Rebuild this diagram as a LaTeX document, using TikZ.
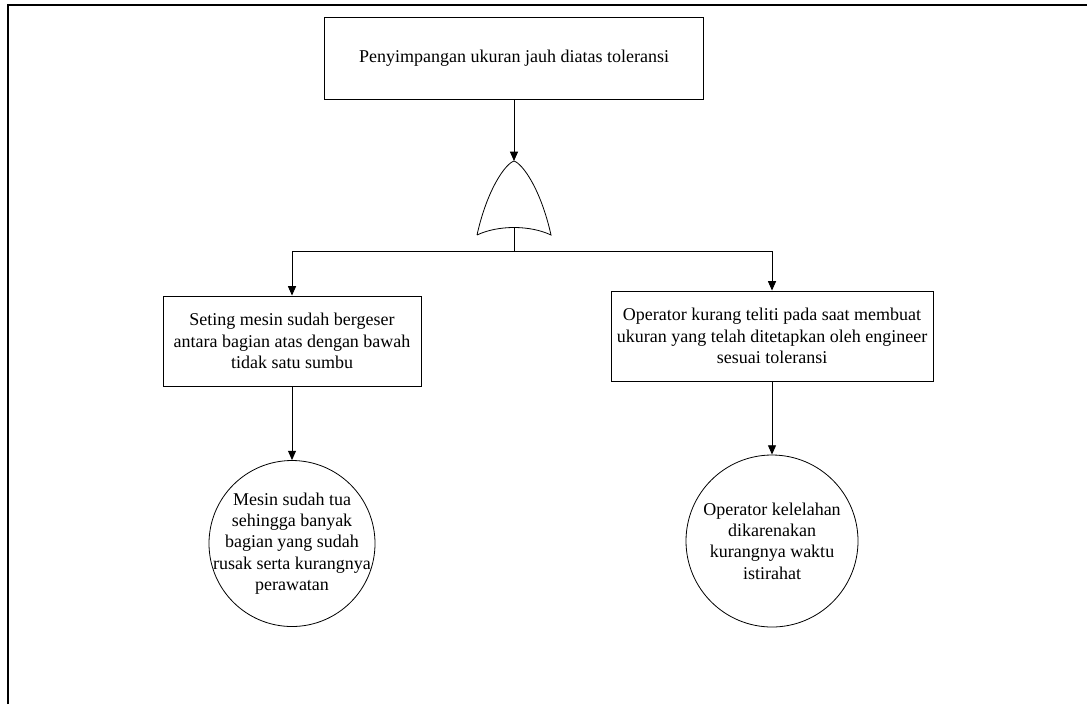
\documentclass[tikz,border=0pt]{standalone}
\usepackage{fontspec}
\setmainfont{Liberation Serif}
\usetikzlibrary{positioning,arrows.meta}

\begin{document}
\begin{tikzpicture}[x=0.75pt,y=-0.75pt,
		>={Triangle[length=7pt,width=6pt]},
		eventbox/.style={rectangle, draw, line width=0.7pt, align=center, font=\fontsize{13.5}{16}\selectfont},
		basicnode/.style={circle, draw, line width=0.6pt, align=center, inner sep=-20pt, font=\fontsize{13.5}{16}\selectfont},
		gateline/.style={line width=0.6pt},
	]
	\useasboundingbox (0,0) rectangle (1087,704);
	%Frame
	\draw[line width=1.5pt] (8,704) -- (8,5) -- (1087,5);
	
	%Nodes
	\node[eventbox, minimum width=284pt, minimum height=61pt]   (top) at (514,58.5) {Penyimpangan ukuran jauh diatas toleransi};
	\node[eventbox, minimum width=193.5pt, minimum height=67.5pt] (e1) at (292,341) {Seting mesin sudah bergeser\\antara bagian atas dengan bawah\\tidak satu sumbu};
	\node[eventbox, minimum width=241.5pt, minimum height=67.5pt] (e2) at (772,336) {Operator kurang teliti pada saat membuat\\ukuran yang telah ditetapkan oleh engineer\\sesuai toleransi};
	\node[basicnode, minimum size=124.5pt] (b1) at (292,543.5) {Mesin sudah tua\\sehingga banyak\\bagian yang sudah\\rusak serta kurangnya\\perawatan};
	\node[basicnode, minimum size=129pt]   (b2) at (772,541) {Operator kelelahan\\dikarenakan\\kurangnya waktu\\istirahat};
	
	%OR gate
	\coordinate (gtop)  at (514,161);
	\coordinate (gbot)  at (514,228);
	\coordinate (split) at (514,251);
	\draw[gateline] (477,235) .. controls (487,190) and (505,164) .. (gtop)
		.. controls (523,164) and (541,190) .. (551,235)
		.. controls (530,225) and (498,225) .. (477,235);
	
	%Lines
	\draw[->,line width=0.7pt] (top) -- (gtop);
	\draw[line width=0.7pt] (gbot) -- (split);
	\draw[->,line width=0.7pt] (split) -| (e1);
	\draw[->,line width=0.7pt] (split) -| (e2);
	\draw[->,line width=0.7pt] (e1) -- (b1);
	\draw[->,line width=0.7pt] (e2) -- (b2);
\end{tikzpicture}
\end{document}
